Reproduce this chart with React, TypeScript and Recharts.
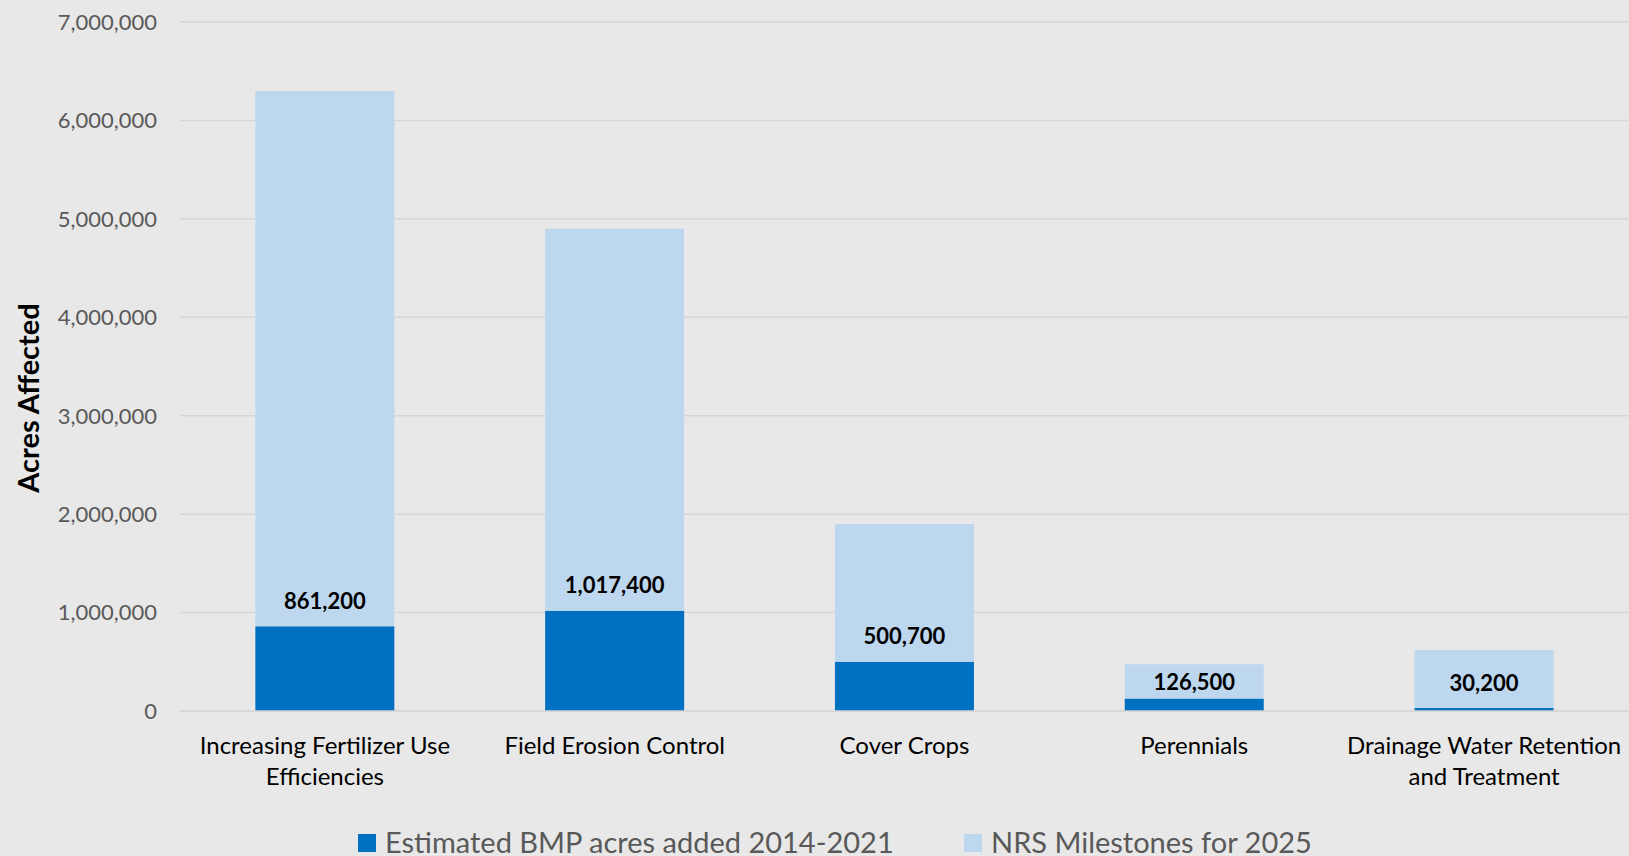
import React from 'react';
import { BarChart, Bar, XAxis, YAxis, CartesianGrid, LabelList, Legend } from 'recharts';

// Categories of practices and their axis labels (split into display lines)
const categories = [
  'Increasing Fertilizer Use Efficiencies',
  'Field Erosion Control',
  'Cover Crops',
  'Perennials',
  'Drainage Water Retention and Treatment',
];
const categoryLines = [
  ['Increasing Fertilizer Use', 'Efficiencies'],
  ['Field Erosion Control'],
  ['Cover Crops'],
  ['Perennials'],
  ['Drainage Water Retention', 'and Treatment'],
];

// Acres affected
const estimatedBmpAcres = [861200, 1017400, 500700, 126500, 30200];
const milestones2025 = [6300000, 4900000, 1900000, 475000, 620000];

const seriesNames = ['Estimated BMP acres added 2014-2021', 'NRS Milestones for 2025'];
const yTicks = [0, 1000000, 2000000, 3000000, 4000000, 5000000, 6000000, 7000000];

const DARK = '#0070c0';
const LIGHT = '#bdd7ee';
const BG = '#e8e8e8';
const GRID = '#d6d6d6';
const FONT = 'Lato, "Open Sans", sans-serif';

// The milestone bar sits behind the estimate, so the stacked part is the remainder
const data = categories.map((category, i) => ({
  category,
  lines: categoryLines[i],
  estimated: estimatedBmpAcres[i],
  remaining: milestones2025[i] - estimatedBmpAcres[i],
}));

const fmt = (v: number) => v.toLocaleString('en-US');

const CategoryTick = (props: any) => {
  const { x, y, index } = props;
  const lines = categoryLines[index] || [];
  return (
    <g>
      {lines.map((line: string, k: number) => (
        <text
          key={k}
          x={x}
          y={y + 43 + k * 31}
          textAnchor="middle"
          fill="#000"
          fontSize={24}
          fontFamily={FONT}
        >
          {line}
        </text>
      ))}
    </g>
  );
};

// Value of the estimate, written inside the milestone segment just above its base
const EstimateLabel = (props: any) => {
  const { x, y, width, height, value } = props;
  const base = y + height;
  const cy = Math.max(base - 26, y + height / 2);
  return (
    <text
      x={x + width / 2}
      y={cy}
      textAnchor="middle"
      dominantBaseline="central"
      fill="#000"
      fontWeight="bold"
      fontSize={22}
      fontFamily={FONT}
    >
      {fmt(value)}
    </text>
  );
};

const LegendContent = () => {
  const items = [
    { name: seriesNames[0], color: DARK },
    { name: seriesNames[1], color: LIGHT },
  ];
  return (
    <div style={{ display: 'flex', alignItems: 'flex-start', fontFamily: FONT }}>
      {items.map((it, i) => (
        <div
          key={i}
          style={{ display: 'flex', alignItems: 'flex-start', width: i === 0 ? 606 : 'auto' }}
        >
          <div style={{ width: 18, height: 18, background: it.color, marginTop: 7, marginRight: 9 }} />
          <span style={{ fontSize: 29, lineHeight: '29px', color: '#595959', whiteSpace: 'nowrap' }}>
            {it.name}
          </span>
        </div>
      ))}
    </div>
  );
};

const AxisTitle = () => (
  <text
    x={27}
    y={398}
    transform="rotate(-90 27 398)"
    textAnchor="middle"
    dominantBaseline="central"
    fill="#000"
    fontWeight="bold"
    fontSize={29}
    fontFamily={FONT}
  >
    Acres Affected
  </text>
);

export default function App() {
  return (
    <div
      style={{
        position: 'fixed',
        left: 0,
        top: 0,
        width: 1629,
        height: 856,
        background: BG,
        overflow: 'hidden',
      }}
    >
      <BarChart
        width={1629}
        height={856}
        data={data}
        margin={{ top: 22, right: 0, bottom: 0, left: 0 }}
        barCategoryGap="26%"
      >
        <CartesianGrid vertical={false} stroke={GRID} strokeWidth={1.5} />
        <XAxis
          dataKey="category"
          height={145}
          tickSize={0}
          tickMargin={0}
          axisLine={{ stroke: GRID, strokeWidth: 1.5 }}
          tickLine={false}
          tick={<CategoryTick />}
          interval={0}
        />
        <YAxis
          width={180}
          domain={[0, 7000000]}
          ticks={yTicks}
          tickFormatter={fmt}
          axisLine={false}
          tickLine={false}
          tickSize={0}
          tickMargin={23}
          tick={{ fill: '#595959', fontSize: 22, fontFamily: FONT }}
          label={<AxisTitle />}
        />
        <Legend
          layout="horizontal"
          verticalAlign="middle"
          content={<LegendContent />}
          wrapperStyle={{ left: 358, top: 827, width: 1200 }}
        />
        <Bar dataKey="estimated" name={seriesNames[0]} stackId="a" fill={DARK} isAnimationActive={false} />
        <Bar dataKey="remaining" name={seriesNames[1]} stackId="a" fill={LIGHT} isAnimationActive={false}>
          <LabelList dataKey="estimated" content={<EstimateLabel />} />
        </Bar>
      </BarChart>
    </div>
  );
}
